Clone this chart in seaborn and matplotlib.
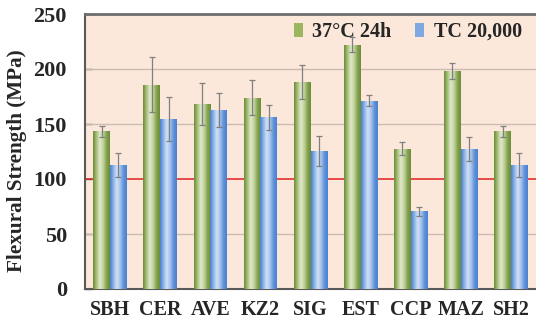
import numpy as np
import pandas as pd
import matplotlib
matplotlib.use("Agg")
import matplotlib.pyplot as plt
import seaborn as sns
from matplotlib.colors import LinearSegmentedColormap

categories = ["SBH", "CER", "AVE", "KZ2", "SIG", "EST", "CCP", "MAZ", "SH2"]
series_names = ["37°C 24h", "TC 20,000"]
vals_24h = [143.5, 185.5, 168, 174, 188.5, 222, 127.5, 198, 143.5]
err_24h = [5, 25, 19, 16, 15.5, 7, 6, 7.5, 5]
vals_tc = [112.5, 154.5, 162.5, 156, 125.5, 171, 70.5, 127, 112.5]
err_tc = [11, 20, 15.5, 11, 14, 5, 4.5, 11, 11]
yticks = [0, 50, 100, 150, 200, 250]

sns.set_theme(style="white")
plt.rcParams['font.family'] = ['Liberation Serif', 'DejaVu Serif']
plt.rcParams['font.weight'] = 'bold'

df = pd.DataFrame({
    "cat": categories * 2,
    "series": [series_names[0]] * len(categories) + [series_names[1]] * len(categories),
    "val": vals_24h + vals_tc,
})

fig = plt.figure(figsize=(5.36, 3.21), dpi=100)
ax = fig.add_axes([85/536, 32/321, 451/536, 275/321])
ax.set_facecolor("#FCE8DA")

green = "#9BB561"
blue = "#7FA8E2"
sns.barplot(data=df, x="cat", y="val", hue="series", palette=[green, blue],
            width=0.667, gap=0, errorbar=None, ax=ax, zorder=3, saturation=1,
            edgecolor="none", linewidth=0)

ax.set_xlim(-0.5, len(categories) - 0.5)
ax.set_ylim(0, 250)

cmap_g = LinearSegmentedColormap.from_list("g", ["#6C8C36", "#A7BF79", "#E0E9CC", "#C2D39E", "#86A451", "#6C8C36"])
cmap_b = LinearSegmentedColormap.from_list("b", ["#4A80CF", "#8EB3E6", "#D1E1F5", "#A6C3EC", "#6093DA", "#4A80CF"])
grad = np.linspace(0, 1, 64).reshape(1, -1)
for cont, cmap, errs in zip(ax.containers, [cmap_g, cmap_b], [err_24h, err_tc]):
    for p, e in zip(cont.patches, errs):
        x0, y0 = p.get_x(), p.get_y()
        w, h = p.get_width(), p.get_height()
        im = ax.imshow(grad, cmap=cmap, extent=[x0, x0 + w, y0, y0 + h],
                       aspect="auto", zorder=3.5, interpolation="bilinear")
        im.set_clip_path(p)
        ax.errorbar(x0 + w / 2, y0 + h, yerr=e, color="#7F7F7F", lw=0.9,
                    capsize=2.4, capthick=0.9, zorder=5)

ax.set_xlim(-0.5, len(categories) - 0.5)
ax.set_ylim(0, 250)

for yv in [50, 150, 200]:
    ax.axhline(yv, color="#C9BDB3", lw=1.0, zorder=1)
ax.axhline(100, color="#E0201E", lw=1.1, zorder=2)

ax.set_yticks(yticks)
ax.set_yticklabels([str(t) for t in yticks], fontsize=16, fontweight="bold")
ax.tick_params(axis="y", direction="in", length=5, width=1, color="#595959", pad=13, left=True)
ax.tick_params(axis="x", length=0, pad=8, labelsize=14.5)
for lab in ax.get_xticklabels():
    lab.set_fontweight("bold")
ax.set_xlabel("")
ax.set_ylabel("Flexural Strength (MPa)", fontsize=15.2, fontweight="bold")
ax.yaxis.set_label_coords(-0.129, 0.465)

for side in ["left", "bottom"]:
    ax.spines[side].set_color("#595959")
    ax.spines[side].set_linewidth(1.5)
ax.spines["top"].set_color("#6E6E6E")
ax.spines["top"].set_linewidth(2)
ax.spines["right"].set_visible(False)

leg = ax.legend(loc="upper right", ncol=2, frameon=False,
                handlelength=0.45, handleheight=0.7, handletextpad=0.45,
                columnspacing=1.2, borderaxespad=0.2, bbox_to_anchor=(0.995, 1.015),
                prop={"family": "Liberation Serif", "weight": "bold", "size": 14.5})

fig.savefig("out.png", dpi=100, facecolor="white")
